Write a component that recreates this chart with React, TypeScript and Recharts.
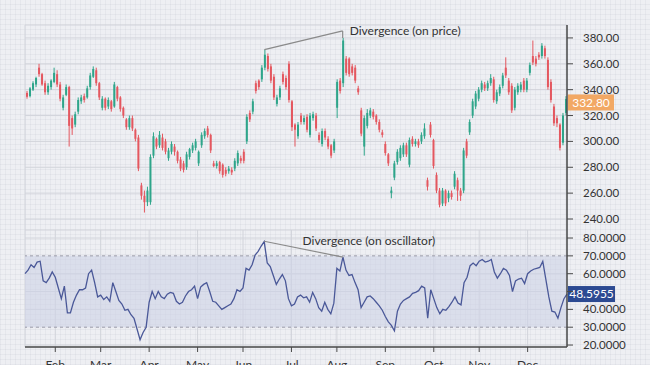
import React from 'react';
import {
  ComposedChart,
  Bar,
  Line,
  XAxis,
  YAxis,
  CartesianGrid,
  ReferenceLine,
  ReferenceArea,
  ReferenceDot,
} from 'recharts';

const monthLabels = ['Feb', 'Mar', 'Apr', 'May', 'Jun', 'Jul', 'Aug', 'Sep', 'Oct', 'Nov', 'Dec'];
const monthTickIdx = [10, 25, 41, 57, 72, 88, 103, 119, 135, 150, 166];
const priceTicks = [240, 260, 280, 300, 320, 340, 360, 380];
const rsiTicks = [20, 30, 40, 50, 60, 70, 80];
const rsiHiddenTickLabel = 50;

const opens = [
  337.5, 335, 340, 344, 357, 352, 345, 338, 342, 346, 352, 344, 326, 336, 342, 318, 313, 323, 331, 335,
  334, 342, 350, 355, 345, 326, 333, 327, 331, 327, 342, 334, 326, 317, 311, 318, 309, 303, 266, 258,
  253, 253, 289, 302, 297, 303, 300, 287, 292, 296, 292, 286, 283, 280, 288, 293, 295, 283, 297, 304,
  310, 305, 283, 281, 284, 282, 278, 277, 278, 279, 283, 287, 292, 300, 322, 323, 345, 347, 348, 357,
  366, 358, 350, 329, 334, 352, 349, 360, 331, 313, 304, 320, 315, 319, 305, 318, 320, 305, 298, 308,
  302, 297, 293, 326, 347, 345, 364, 364, 358, 357, 341, 324, 296, 312, 320, 323, 320, 315, 307, 298,
  290, 260, 272, 284, 287, 290, 297, 282, 302, 298, 300, 300, 304, 270, 313, 301, 274, 262, 252, 262,
  256, 260, 265, 270, 262, 262, 300, 307, 320, 327, 333, 340, 344, 341, 345, 348, 331, 337, 343, 357,
  347, 343, 326, 338, 340, 347, 340, 353, 366, 364, 367, 366, 372, 363, 346, 327, 318, 313, 299, 322,
];
const highs = [
  339, 342, 346.5, 350, 360, 353, 347, 345, 348, 357, 355, 346, 336, 344, 343, 320, 323, 334, 336, 337,
  343, 353, 358, 357, 346, 335, 334, 334, 332, 346, 343, 335, 327, 318, 320, 320, 310, 305, 268, 262,
  265, 290, 307, 303, 308, 306, 302, 295, 300, 298, 293, 288, 285, 292, 295, 299, 302, 293, 307, 310,
  312, 306, 285, 285, 285, 283, 280, 281, 280, 287, 293, 289, 294, 321, 324, 333, 347, 348, 359, 371,
  368, 360, 352, 336, 343, 354, 351, 362, 332, 314, 315, 322, 320, 321, 322, 323, 322, 307, 310, 310,
  304, 298, 302, 348, 349, 380, 366, 365, 360, 359, 343, 326, 320, 325, 326, 325, 321, 317, 309, 300,
  291, 265, 285, 294, 297, 299, 299, 303, 304, 302, 302, 307, 314, 272, 315, 302, 276, 264, 264, 263,
  262, 262, 277, 272, 264, 295, 302, 317, 333, 339, 342, 347, 346, 347, 352, 350, 340, 344, 353, 365,
  349, 345, 342, 345, 346, 349, 349, 361, 378, 366, 369, 376, 374, 365, 348, 329, 320, 314, 322, 335,
];
const lows = [
  333, 334, 339, 342, 350, 343, 336, 336, 340, 345, 342, 331, 324, 335, 296, 305, 311, 321, 329, 330,
  333, 340, 349, 343, 332, 324, 324, 325, 323, 326, 331, 323, 318, 309, 309, 308, 300, 277, 255, 245,
  250, 251, 287, 294, 295, 293, 290, 285, 290, 289, 283, 277, 276, 278, 286, 291, 293, 281, 295, 302,
  303, 291, 280, 279, 275, 272, 273, 275, 274, 277, 281, 283, 283, 298, 315, 321, 337, 340, 346, 355,
  354, 345, 332, 327, 332, 344, 340, 330, 308, 296, 302, 313, 313, 307, 303, 316, 308, 299, 296, 301,
  294, 287, 291, 318, 337, 342, 351, 350, 351, 345, 336, 304, 289, 310, 318, 317, 313, 307, 303, 289,
  281, 256, 270, 282, 285, 288, 288, 280, 296, 296, 295, 298, 302, 262, 303, 279, 260, 249, 250, 250,
  253, 255, 263, 254, 254, 260, 287, 305, 318, 325, 331, 338, 339, 339, 343, 330, 329, 335, 341, 349,
  336, 322, 324, 336, 338, 338, 338, 351, 359, 358, 363, 364, 364, 340, 330, 312, 311, 293, 297, 320,
];
const closes = [
  334.5, 341, 345, 349, 352, 344, 338, 343, 347, 353, 344, 333, 334, 342, 312, 310, 321, 332, 334, 332,
  341, 351, 356, 345, 334, 333, 326, 332, 325, 344, 333, 325, 320, 311, 318, 310, 302, 279, 258, 253,
  262, 288, 304, 296, 305, 295, 292, 293, 298, 292, 285, 279, 278, 290, 294, 297, 300, 292, 305, 308,
  305, 293, 281, 283, 277, 274, 275, 279, 276, 285, 291, 285, 285, 319, 317, 331, 339, 342, 357, 367,
  356, 347, 334, 334, 341, 346, 342, 332, 311, 309, 313, 315, 318, 309, 320, 321, 310, 301, 308, 303,
  296, 289, 300, 346, 339, 378, 353, 352, 353, 347, 338, 306, 318, 322, 324, 319, 315, 309, 305, 291,
  283, 262, 283, 292, 295, 297, 290, 301, 298, 300, 297, 305, 310, 265, 305, 281, 262, 251, 262, 252,
  260, 257, 275, 262, 258, 293, 289, 315, 331, 337, 340, 345, 341, 345, 349, 332, 338, 342, 351, 351,
  338, 324, 340, 343, 344, 340, 347, 359, 361, 360, 365, 374, 366, 342, 332, 314, 314, 295, 320, 332.8,
];
const rsiValues = [
  60, 62, 65, 63.5, 66.5, 67, 56, 55, 57.5, 61, 58, 52, 46, 53, 38, 38, 44, 48, 51, 51,
  52, 60, 62, 55, 47, 48, 45.5, 47, 44.5, 55, 50, 45, 43, 39.5, 40, 37, 35, 29, 23, 27,
  30, 44, 50, 46, 50, 47, 46, 48.5, 49.5, 49, 44.5, 43, 44, 47.5, 50, 51, 53, 46, 52.5, 54,
  55, 50, 44.5, 44, 42, 40, 41, 42, 43, 46, 51, 50, 52, 63, 62, 65, 70.5, 72.5, 75.5, 78,
  66, 64, 59, 54, 57, 59.5, 56, 46, 42, 43, 47, 48, 46.5, 47, 44, 49.5, 46, 41, 39, 44,
  40, 37.5, 43.5, 63, 61.5, 69.3, 62, 59, 59.5, 55, 51, 41, 44, 47, 47.5, 46, 44, 42, 39.5, 36,
  33, 31, 28, 39, 43, 45, 46, 47, 49, 49.5, 50.5, 53, 52, 35, 51, 46, 41, 37.5, 40, 39.5,
  41.5, 44, 47, 43.5, 42.5, 55, 58, 64.5, 66, 64.5, 67, 68, 66.5, 67, 68, 61, 57.5, 60, 63, 62,
  59, 50, 56, 57, 57.5, 54.5, 60, 61.5, 62.5, 63, 63.5, 66.9, 57, 47, 39, 38.5, 35, 41, 46, 48.5955,
];

const lastPriceLabel = '332.80';
const lastRsiLabel = '48.5955';
const priceDivergence = { fromIdx: 79, fromVal: 371, toIdx: 105, toVal: 385.4, peakVal: 380 };
const rsiDivergence = { fromIdx: 79, fromVal: 78.2, toIdx: 105, toVal: 69.3, textIdx: 92, textVal: 78.3 };

const data = closes.map((c, i) => ({
  i,
  open: opens[i],
  high: highs[i],
  low: lows[i],
  close: c,
  range: [lows[i], highs[i]],
  rsi: rsiValues[i],
}));

const GREEN = '#2ea58a';
const RED = '#e4575f';
const AXIS = '#4a4a4a';
const GRID = '#d2d4db';
const FONT = 'Lato, "Noto Sans", sans-serif';

const Candle = (props: any) => {
  const { x, y, width, height, payload } = props;
  if (x == null || y == null || !payload) return null;
  const { open, close, high, low } = payload;
  const top = Math.min(y, y + height);
  const h = Math.abs(height);
  const ratio = high === low ? 0 : h / (high - low);
  const yO = top + (high - open) * ratio;
  const yC = top + (high - close) * ratio;
  const color = close >= open ? GREEN : RED;
  const cx = x + width / 2;
  return (
    <g>
      <line x1={cx} x2={cx} y1={top} y2={top + h} stroke={color} strokeWidth={1} />
      <rect x={x} y={Math.min(yO, yC)} width={width} height={Math.max(1, Math.abs(yC - yO))} fill={color} />
    </g>
  );
};

const makeTag = (text: string, fill: string, w: number, dy: number) => (p: any) => {
  const vb = p.viewBox || {};
  const x0 = (vb.x || 0) + (vb.width || 0) + 1;
  const yc = (vb.y || 0) + dy;
  return (
    <g>
      <rect x={x0} y={yc - 8} width={w} height={16} fill={fill} />
      <text x={x0 + w / 2} y={yc} dy="0.36em" textAnchor="middle" fill="#ffffff" fontSize={12} fontFamily={FONT}>
        {text}
      </text>
    </g>
  );
};

const makeNote = (text: string, dx: number) => (p: any) => {
  const vb = p.viewBox || {};
  const cx = (vb.x || 0) + (vb.width || 0) / 2;
  const cy = (vb.y || 0) + (vb.height || 0) / 2;
  return (
    <text x={cx + dx} y={cy} dy="0.36em" textAnchor="start" fill="#333" fontSize={12} fontFamily={FONT}>
      {text}
    </text>
  );
};

export default function App() {
  const bg: React.CSSProperties = {
    position: 'absolute',
    left: 0,
    top: 0,
    width: 650,
    height: 365,
    overflow: 'hidden',
    backgroundColor: '#eeeff3',
    backgroundImage:
      'repeating-linear-gradient(0deg, rgba(140,146,165,0.09) 0px, rgba(140,146,165,0.09) 1px, transparent 1px, transparent 5px), repeating-linear-gradient(90deg, rgba(140,146,165,0.09) 0px, rgba(140,146,165,0.09) 1px, transparent 1px, transparent 5px)',
  };
  const tickStyle = { fill: '#333', fontSize: 11.5, fontFamily: FONT };
  return (
    <div style={bg}>
      <ComposedChart width={650} height={230} data={data} margin={{ top: 25, right: 0, left: 25, bottom: 0 }}>
        <CartesianGrid stroke={GRID} strokeWidth={1} />
        <XAxis
          dataKey="i"
          type="category"
          ticks={monthTickIdx}
          interval={0}
          tick={false}
          tickLine={false}
          axisLine={{ stroke: AXIS, strokeWidth: 1.5 }}
          height={0}
        />
        <YAxis
          orientation="right"
          domain={[231.5, 390]}
          ticks={priceTicks}
          allowDataOverflow
          width={83}
          tickFormatter={(v: number) => v.toFixed(2)}
          tick={tickStyle}
          axisLine={{ stroke: AXIS, strokeWidth: 1.5 }}
          tickLine={{ stroke: AXIS }}
          tickSize={6}
          tickMargin={10}
        />
        <Bar dataKey="range" shape={Candle} barSize={2} isAnimationActive={false} />
        <ReferenceLine
          segment={[
            { x: priceDivergence.fromIdx, y: priceDivergence.fromVal },
            { x: priceDivergence.toIdx, y: priceDivergence.toVal },
          ]}
          stroke="#8a8a8a"
          strokeWidth={1.2}
          ifOverflow="visible"
        />
        <ReferenceLine
          segment={[
            { x: priceDivergence.toIdx, y: priceDivergence.toVal },
            { x: priceDivergence.toIdx, y: priceDivergence.peakVal },
          ]}
          stroke="#8a8a8a"
          strokeWidth={1.2}
          ifOverflow="visible"
        />
        <ReferenceDot
          x={priceDivergence.toIdx}
          y={priceDivergence.toVal}
          r={1}
          fill="none"
          stroke="none"
          ifOverflow="visible"
          label={makeNote('Divergence (on price)', 7)}
        />
        <ReferenceLine
          y={closes[closes.length - 1]}
          stroke="none"
          ifOverflow="visible"
          label={makeTag(lastPriceLabel, '#f2a864', 46, 3.5)}
        />
      </ComposedChart>
      <ComposedChart width={650} height={135} data={data} margin={{ top: 0, right: 0, left: 25, bottom: 0 }}>
        <ReferenceArea y1={30} y2={70} fill="#cdd2e6" fillOpacity={0.6} stroke="none" />
        <CartesianGrid stroke={GRID} strokeWidth={1} />
        <ReferenceLine y={70} stroke="#9b9ca8" strokeDasharray="3 3" />
        <ReferenceLine y={30} stroke="#9b9ca8" strokeDasharray="3 3" />
        <XAxis
          dataKey="i"
          type="category"
          ticks={monthTickIdx}
          interval={0}
          tickFormatter={(v: number) => monthLabels[monthTickIdx.indexOf(v)] || ''}
          tick={{ fill: '#333', fontSize: 12, fontFamily: FONT }}
          tickLine={{ stroke: AXIS }}
          axisLine={{ stroke: AXIS, strokeWidth: 1.5 }}
          tickSize={5}
          tickMargin={8}
          height={18}
        />
        <YAxis
          orientation="right"
          domain={[18.9, 84.5]}
          ticks={rsiTicks}
          allowDataOverflow
          width={83}
          tickFormatter={(v: number) => (v === rsiHiddenTickLabel ? '' : v.toFixed(4))}
          tick={tickStyle}
          axisLine={{ stroke: AXIS, strokeWidth: 1.5 }}
          tickLine={{ stroke: AXIS }}
          tickSize={6}
          tickMargin={10}
        />
        <Line dataKey="rsi" stroke="#4a5898" strokeWidth={1.3} dot={false} isAnimationActive={false} />
        <ReferenceLine
          segment={[
            { x: rsiDivergence.fromIdx, y: rsiDivergence.fromVal },
            { x: rsiDivergence.toIdx, y: rsiDivergence.toVal },
          ]}
          stroke="#8a8a8a"
          strokeWidth={1.2}
          ifOverflow="visible"
        />
        <ReferenceDot
          x={rsiDivergence.textIdx}
          y={rsiDivergence.textVal}
          r={1}
          fill="none"
          stroke="none"
          ifOverflow="visible"
          label={makeNote('Divergence (on oscillator)', -1)}
        />
        <ReferenceLine
          y={rsiValues[rsiValues.length - 1]}
          stroke="none"
          ifOverflow="visible"
          label={makeTag(lastRsiLabel, '#2c4a92', 47, 0)}
        />
      </ComposedChart>
    </div>
  );
}
